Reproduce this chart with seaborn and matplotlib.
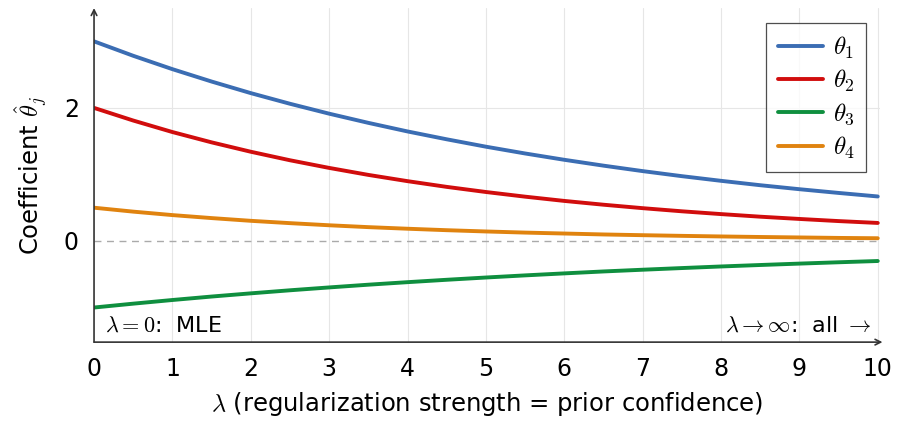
import pandas as pd
import numpy as np
import matplotlib
matplotlib.use("Agg")
import matplotlib.pyplot as plt
import seaborn as sns

# ==============================
# DATA
# ==============================
lam = [0, 0.5, 1, 1.5, 2, 2.5, 3, 3.5, 4, 4.5, 5, 5.5, 6, 6.5, 7, 7.5, 8, 8.5, 9, 9.5, 10]
theta1 = [3.000, 2.783, 2.582, 2.396, 2.222, 2.062, 1.913, 1.775, 1.646, 1.528, 1.417,
          1.315, 1.220, 1.132, 1.050, 0.974, 0.904, 0.838, 0.778, 0.722, 0.669]
theta2 = [2.000, 1.810, 1.637, 1.482, 1.341, 1.213, 1.098, 0.993, 0.899, 0.813, 0.736,
          0.666, 0.602, 0.545, 0.493, 0.446, 0.404, 0.365, 0.331, 0.299, 0.271]
theta3 = [-1.000, -0.942, -0.887, -0.835, -0.787, -0.741, -0.698, -0.657, -0.619, -0.583, -0.549,
          -0.517, -0.487, -0.458, -0.432, -0.407, -0.383, -0.361, -0.340, -0.320, -0.301]
theta4 = [0.500, 0.441, 0.389, 0.344, 0.303, 0.268, 0.236, 0.208, 0.184, 0.162, 0.143,
          0.126, 0.112, 0.098, 0.087, 0.077, 0.068, 0.060, 0.053, 0.046, 0.041]
labels = [r"$\theta_1$", r"$\theta_2$", r"$\theta_3$", r"$\theta_4$"]
colors = ["#3b6db3", "#d10d0d", "#0f8f3f", "#e0830f"]

df = pd.concat([
    pd.DataFrame({"lam": lam, "value": vals, "coef": lab})
    for vals, lab in zip([theta1, theta2, theta3, theta4], labels)
])

# ==============================
# STYLE
# ==============================
sns.set_style("white")
plt.rcParams["font.family"] = ["DejaVu Sans"]
plt.rcParams["mathtext.fontset"] = "cm"
plt.rcParams["text.color"] = "black"
plt.rcParams["axes.labelcolor"] = "black"

fig = plt.figure(figsize=(8.99, 4.25), dpi=100)
ax = fig.add_axes([0.1046, 0.195, 0.8744, 0.786])

# grid
for xv in range(1, 11):
    ax.axvline(xv, color="#e6e6e6", lw=0.8, zorder=0)
ax.axhline(2, color="#e6e6e6", lw=0.8, zorder=0)
ax.axhline(0, color="#aaaaaa", lw=1.0, ls=(0, (5, 4)), zorder=1)

sns.lineplot(data=df, x="lam", y="value", hue="coef", palette=colors,
             linewidth=2.8, ax=ax, legend=True)

ax.set_xlim(0, 10.03)
ax.set_ylim(-1.52, 3.5)
ax.set_xticks(range(0, 11))
ax.set_yticks([0, 2])
ax.tick_params(axis="both", labelsize=17, colors="#333333", labelcolor="black",
               length=5, width=0.8, direction="inout", pad=8)
ax.tick_params(axis="y", direction="out", length=4, pad=7)

ax.set_xlabel(r"$\lambda$ (regularization strength = prior confidence)", fontsize=17.5, labelpad=7)
ax.set_ylabel(r"Coefficient $\hat{\theta}_j$", fontsize=17.5, labelpad=10)

# axes with arrows
for s in ax.spines.values():
    s.set_visible(False)
ax.annotate("", xy=(1.003, 0), xytext=(0, 0), xycoords="axes fraction",
            arrowprops=dict(arrowstyle="->", color="#333333", lw=1.2, shrinkA=0, shrinkB=0))
ax.annotate("", xy=(0, 1.0), xytext=(0, 0), xycoords="axes fraction",
            arrowprops=dict(arrowstyle="->", color="#333333", lw=1.2, shrinkA=0, shrinkB=0))

# annotations
ax.text(0.14, -1.36, r"$\lambda = 0$:  MLE", fontsize=16, ha="left", va="baseline")
ax.text(9.92, -1.36, r"$\lambda \to \infty$:  all $\to$", fontsize=16, ha="right", va="baseline")

leg = ax.legend(loc="upper right", bbox_to_anchor=(0.982, 0.955), fontsize=18,
                frameon=True, fancybox=False, edgecolor="#222222", borderaxespad=0,
                handlelength=1.8, handletextpad=0.4, labelspacing=0.3, borderpad=0.45)
leg.get_frame().set_linewidth(0.9)
for line in leg.get_lines():
    line.set_linewidth(2.8)

fig.savefig("out.png", dpi=100)
